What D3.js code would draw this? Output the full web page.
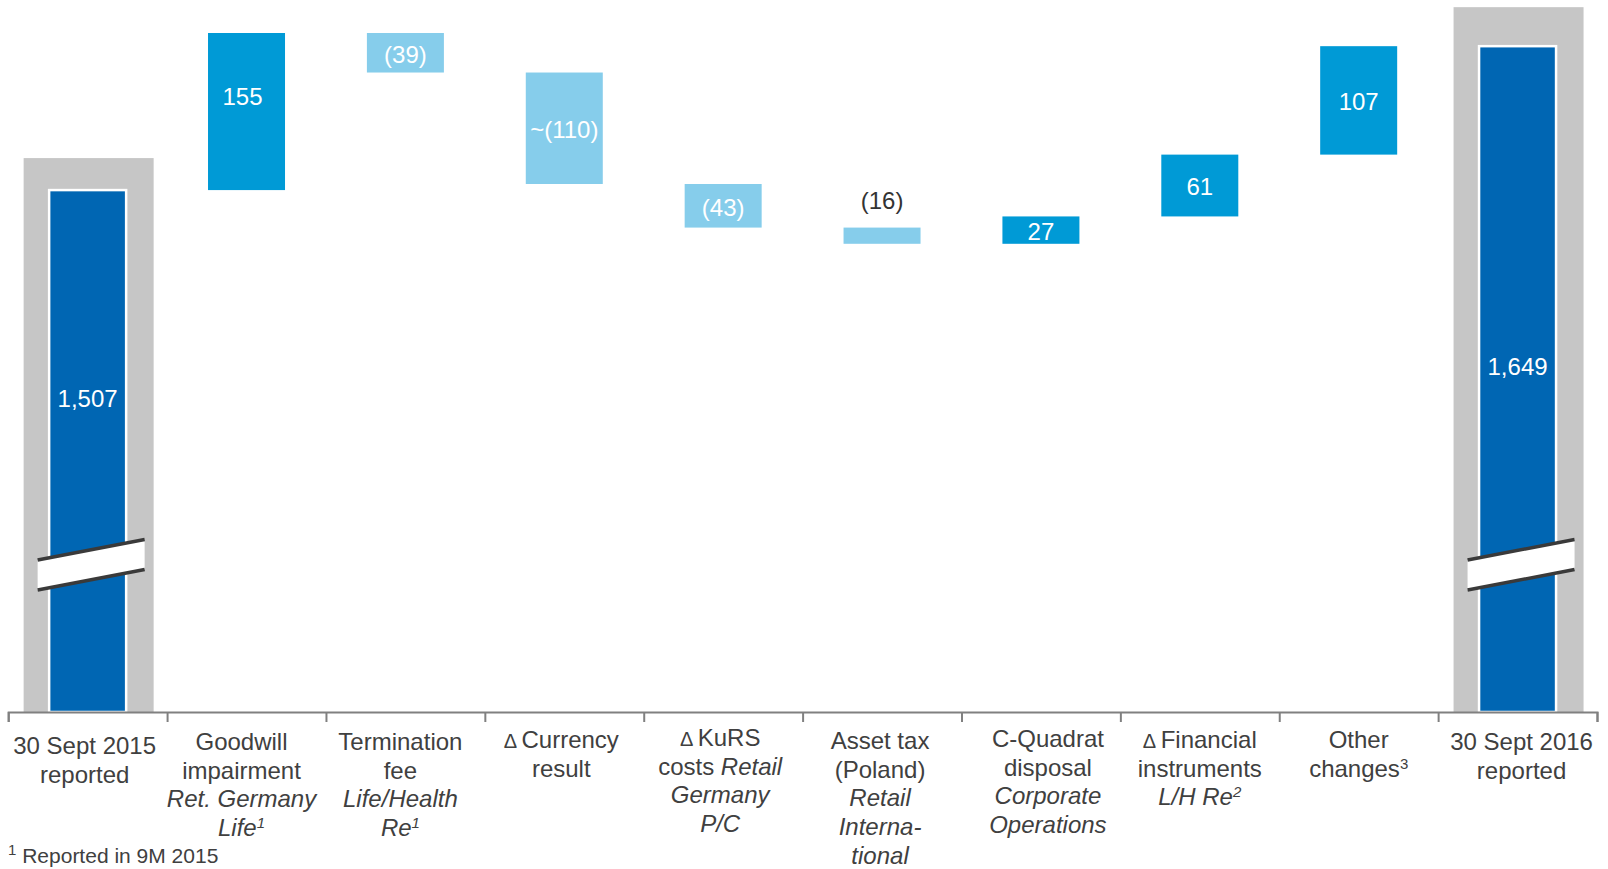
<!DOCTYPE html>
<html><head><meta charset="utf-8">
<script src="https://cdn.jsdelivr.net/npm/d3@7"></script>
<style>
body{margin:0;background:#fff}
svg{display:block;font-family:"Liberation Sans",Arial,Helvetica,sans-serif}
</style>
</head><body>
<svg id="chart" width="1608" height="869"></svg>
<script>
// ---------------- DATA ----------------
const categories = ["start","goodwill","termination","currency","kurs","assettax","cquadrat","financial","other","end"];
const startValue = 1507;
const deltaValues = [155, -39, -110, -43, -16, 27, 61, 107];
const endValue = 1649;
const valueLabels = ["1,507","155","(39)","~(110)","(43)","(16)","27","61","107","1,649"];
// each label: lines -> segments [text, style]; style: "" normal, "i" italic, "d" delta sign, "s" superscript, "si" italic superscript
const axisLabels = [
  [[["30 Sept 2015",""]],[["reported",""]]],
  [[["Goodwill",""]],[["impairment",""]],[["Ret. Germany","i"]],[["Life","i"],["1","si"]]],
  [[["Termination",""]],[["fee",""]],[["Life/Health","i"]],[["Re","i"],["1","si"]]],
  [[["\u0394 ","d"],["Currency",""]],[["result",""]]],
  [[["\u0394 ","d"],["KuRS",""]],[["costs ",""],["Retail","i"]],[["Germany","i"]],[["P/C","i"]]],
  [[["Asset tax",""]],[["(Poland)",""]],[["Retail","i"]],[["Interna-","i"]],[["tional","i"]]],
  [[["C-Quadrat",""]],[["disposal",""]],[["Corporate","i"]],[["Operations","i"]]],
  [[["\u0394 ","d"],["Financial",""]],[["instruments",""]],[["L/H Re","i"],["2","si"]]],
  [[["Other",""]],[["changes",""],["3","s"]]],
  [[["30 Sept 2016",""]],[["reported",""]]]
];
const footnote = [["1","s"],[" Reported in 9M 2015",""]];

// ---------------- LAYOUT ----------------
const W = 1608, H = 869;
const axisY = 712, plotTop = 33;
const baseValue = 992;               // value at the (broken) baseline
const colors = {total:"#0066b3", up:"#009ad6", down:"#86cdeb", frame:"#c6c6c6",
                text:"#404040", axis:"#808080", brk:"#3a3a3a"};
const labelBaseline = [754,750,750,748,746,749,747,748,748,750];
const labelDx = [-3,-5,-5,-3,-3,-2,7,0,0,4];
const lineH = 28.7;

const svg = d3.select("#chart");

const x = d3.scaleBand().domain(categories).range([8.2, 1597]).padding(0);
const y = d3.scaleLinear().domain([baseValue, 1662]).range([axisY, plotTop]);
const barW = 77, frameW = 130;

// build waterfall steps
const steps = [];
steps.push({cat:categories[0], type:"total", v0:baseValue, v1:startValue, label:valueLabels[0]});
let run = startValue;
deltaValues.forEach((d,i)=>{
  steps.push({cat:categories[i+1], type:d>=0?"up":"down", v0:run, v1:run+d, label:valueLabels[i+1], delta:d});
  run += d;
});
steps.push({cat:categories[9], type:"total", v0:baseValue, v1:endValue, label:valueLabels[9]});

const cx = c => x(c) + x.bandwidth()/2;

// grey frames behind totals
const totals = steps.filter(s=>s.type==="total");
const framePadTop = [32, 39];
svg.append("g").selectAll("rect").data(totals).join("rect")
  .attr("x", d=>cx(d.cat)-frameW/2+1).attr("width", frameW)
  .attr("y", (d,i)=>y(d.v1)-framePadTop[i])
  .attr("height", (d,i)=>axisY - (y(d.v1)-framePadTop[i]))
  .attr("fill", colors.frame);

// bars
svg.append("g").selectAll("rect").data(steps).join("rect")
  .attr("x", d=>cx(d.cat)-barW/2).attr("width", barW)
  .attr("y", d=>y(Math.max(d.v0,d.v1)))
  .attr("height", d=>Math.abs(y(d.v0)-y(d.v1)))
  .attr("fill", d=>colors[d.type])
  .attr("stroke", d=>d.type==="total"?"#fff":"none")
  .attr("stroke-width", 2.5);

// axis-break marks on totals
const brk = svg.append("g");
totals.forEach(d=>{
  const x0 = cx(d.cat)-frameW/2+15, x1 = cx(d.cat)+frameW/2-8;
  const yl = axisY-137, yr = axisY-157.5, h = 15;
  brk.append("path")
    .attr("d", `M${x0},${yl-h}L${x1},${yr-h}L${x1},${yr+h}L${x0},${yl+h}Z`)
    .attr("fill","#fff");
  [-h, h].forEach(o=>{
    brk.append("line").attr("x1",x0).attr("y1",yl+o).attr("x2",x1).attr("y2",yr+o)
      .attr("stroke",colors.brk).attr("stroke-width",3.5);
  });
});

// value labels
const totalLabelDy = [209, 320];
const small = d => d.type!=="total" && Math.abs(y(d.v0)-y(d.v1)) < 20;
svg.append("g").selectAll("text").data(steps).join("text")
  .attr("x", d=>cx(d.cat) + (d.cat==="goodwill"?-4:0))
  .attr("y", d=>{
    const top = y(Math.max(d.v0,d.v1)), bot = y(Math.min(d.v0,d.v1));
    if (d.type==="total") { return top + totalLabelDy[d.cat==="start"?0:1]; }
    if (small(d)) return top - 27;
    if (d.cat==="goodwill") return (top+bot)/2 - 15;
    return (top+bot)/2 + 1.5;
  })
  .attr("dy","0.35em")
  .attr("text-anchor","middle")
  .attr("font-size",24)
  .attr("fill", d=> small(d) ? "#333" : "#fff")
  .text(d=>d.label);

// x axis with ticks at category boundaries
const bScale = d3.scaleLinear().domain([0, categories.length]).range(x.range());
svg.append("g").attr("transform",`translate(0,${axisY})`)
  .call(d3.axisBottom(bScale).ticks(categories.length).tickSize(10).tickSizeOuter(10).tickFormat(""))
  .call(g=>{g.selectAll("path,line").attr("stroke",colors.axis).attr("stroke-width",2);});

// category labels
function addSegments(t, segs){
  segs.forEach(([txt,st])=>{
    const sp = t.append("tspan").text(txt);
    if (st.includes("i")) sp.attr("font-style","italic");
    if (st==="d") sp.attr("font-size",20);
    if (st.includes("s")) sp.attr("font-size",15).attr("baseline-shift","super");
  });
}
const lg = svg.append("g").attr("fill",colors.text).attr("font-size",24).attr("text-anchor","middle");
axisLabels.forEach((lines,ci)=>{
  lines.forEach((segs,li)=>{
    const t = lg.append("text").attr("x", cx(categories[ci]) + labelDx[ci]).attr("y", labelBaseline[ci] + li*lineH);
    addSegments(t, segs);
  });
});

// footnote
const fn = svg.append("text").attr("x",8).attr("y",863).attr("font-size",21).attr("fill",colors.text);
addSegments(fn, footnote);
</script>
</body></html>
